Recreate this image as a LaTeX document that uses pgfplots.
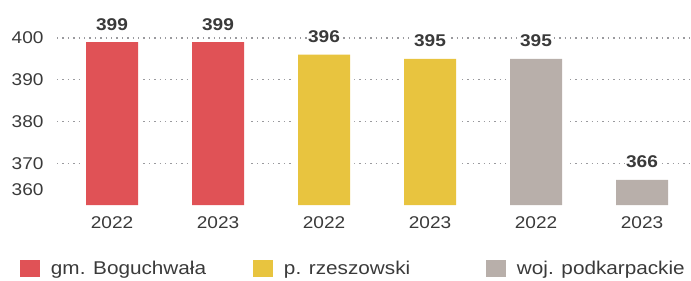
\documentclass[border=0pt]{standalone}
\usepackage{pgfplots}
\pgfplotsset{compat=1.18}
\usepackage{fontspec}
\setmainfont{Liberation Sans}[FakeStretch=1.12]
\definecolor{cred}{HTML}{E05256}
\definecolor{cyel}{HTML}{E8C43F}
\definecolor{cgray}{HTML}{B8AFAA}
\definecolor{ctext}{HTML}{3A3A3A}
\definecolor{cgrid}{HTML}{9A9A9E}
\begin{document}
\begin{tikzpicture}[x=1bp,y=1bp]
\useasboundingbox (0,0) rectangle (691,280);
\begin{axis}[
  at={(57bp,75bp)}, anchor=south west,
  scale only axis, width=634bp, height=192bp,
  xmin=-0.519, xmax=5.462, ymin=360, ymax=406,
  ybar, bar shift=0pt,
  axis line style={draw=none},
  major tick length=0pt, tick style={draw=none},
  xtick={0,1,2,3,4,5}, xticklabels={2022,2023,2022,2023,2022,2023},
  ytick={370,380,390,400},
  extra y ticks={360},
  extra y tick style={grid=none, yticklabel style={yshift=15bp}},
  ymajorgrids,
  grid style={cgrid, line width=1.3bp, dash pattern=on 1.3bp off 4.1bp},
  /pgf/number format/assume math mode=true,
  ticklabel style={font=\fontsize{17bp}{20bp}\selectfont, text=ctext},
  yticklabel style={xshift=-10bp},
  xticklabel style={yshift=-8bp},
  legend columns=3,
  legend cell align=left,
  legend style={draw=none, fill=none, inner sep=0pt, outer sep=0pt,
    at={(axis description cs:-0.0584,-0.3333)}, anchor=west,
    font=\fontsize{18.5bp}{22bp}\selectfont, text=ctext,
    /tikz/column sep=0pt, nodes={inner sep=0pt}},
]
% white halos that break the grid lines around the bars
\addplot[fill=white, draw=none, bar width=60bp, forget plot]
  coordinates {(0,399) (1,399) (2,396) (3,395) (4,395) (5,366)};
\addplot[fill=cred, draw=none, bar width=52bp,
  nodes near coords,
  nodes near coords style={font=\bfseries\fontsize{17bp}{20bp}\selectfont, text=ctext,
    fill=white, inner sep=1.5bp, anchor=center, yshift=18bp},
  legend image code/.code={\fill[cred] (0bp,-8.5bp) rectangle (20bp,8.5bp);}]
  coordinates {(0,399) (1,399)};
\addlegendentry{\hspace{11bp}\makebox[202bp][l]{gm. Boguchwała}}
\addplot[fill=cyel, draw=none, bar width=52bp,
  nodes near coords,
  nodes near coords style={font=\bfseries\fontsize{17bp}{20bp}\selectfont, text=ctext,
    fill=white, inner sep=1.5bp, anchor=center, yshift=18bp},
  legend image code/.code={\fill[cyel] (0bp,-8.5bp) rectangle (20bp,8.5bp);}]
  coordinates {(2,396) (3,395)};
\addlegendentry{\hspace{11bp}\makebox[202bp][l]{p. rzeszowski}}
\addplot[fill=cgray, draw=none, bar width=52bp,
  nodes near coords,
  nodes near coords style={font=\bfseries\fontsize{17bp}{20bp}\selectfont, text=ctext,
    fill=white, inner sep=1.5bp, anchor=center, yshift=18bp},
  legend image code/.code={\fill[cgray] (0bp,-8.5bp) rectangle (20bp,8.5bp);}]
  coordinates {(4,395) (5,366)};
\addlegendentry{\hspace{11bp}woj. podkarpackie}
\end{axis}
\end{tikzpicture}
\end{document}
